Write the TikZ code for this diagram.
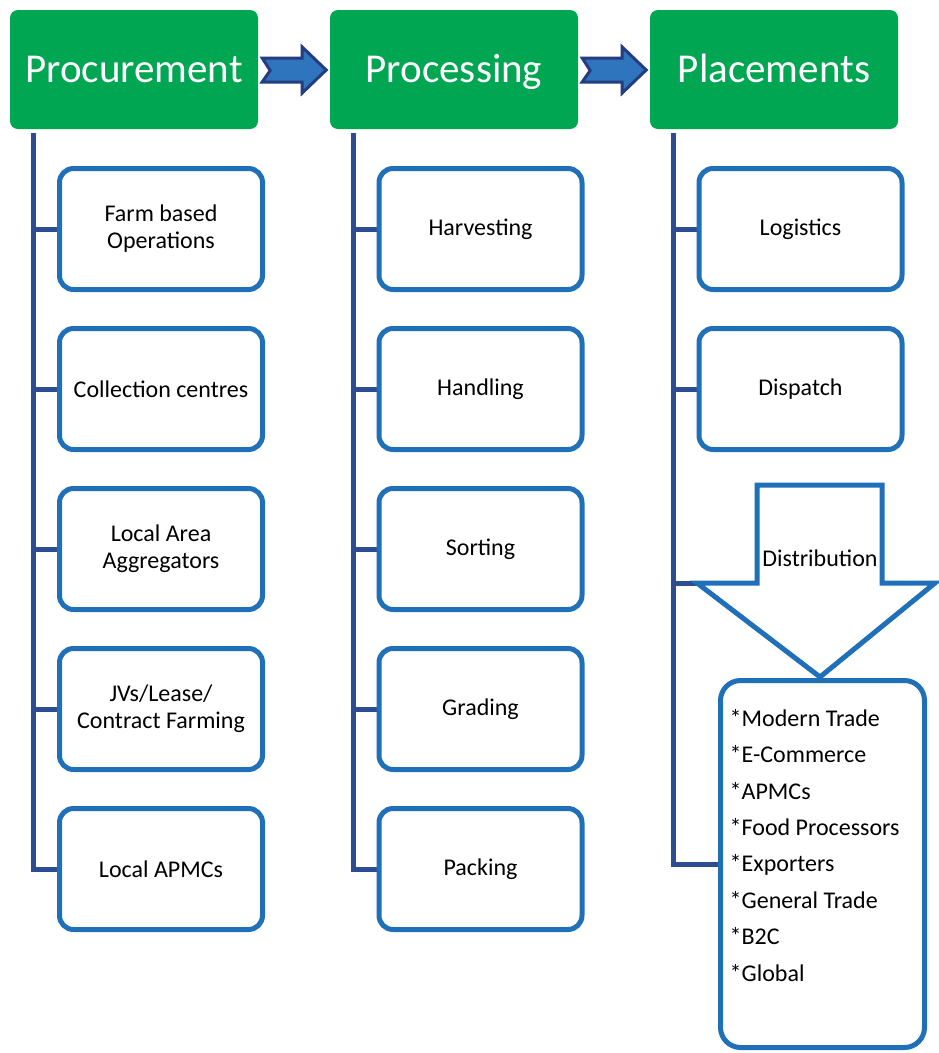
\documentclass[tikz,border=0pt]{standalone}
\usepackage{fontspec}
\setmainfont{Carlito}
\usetikzlibrary{calc,backgrounds}
\definecolor{hdgreen}{RGB}{0,166,81}
\definecolor{boxblue}{RGB}{31,112,185}
\definecolor{linkblue}{RGB}{44,77,145}
\definecolor{arrfill}{RGB}{46,117,190}
\definecolor{arrline}{RGB}{36,60,128}

\tikzset{
  header/.style={rectangle, rounded corners=8pt, fill=hdgreen, text=white,
    minimum width=248pt, minimum height=119pt, text height=28pt, text depth=3pt,
    font=\fontsize{41}{48}\selectfont},
  stepbox/.style={rectangle, rounded corners=14pt, draw=boxblue, line width=5pt, fill=white,
    minimum width=203pt, minimum height=121pt, align=center, font=\fontsize{24}{27}\selectfont},
  link/.style={draw=linkblue, line width=5pt},
  flowarrow/.style={fill=arrfill, draw=arrline, line width=3pt, line join=miter},
  distarrow/.style={draw=boxblue, line width=5pt, fill=white, line join=miter},
  listtxt/.style={align=left, inner sep=0pt, font=\fontsize{24}{36.4}\selectfont}
}

\begin{document}
\begin{tikzpicture}[x=1pt,y=-1pt]
\useasboundingbox (0,0) rectangle (938,1053);

% headers
\node[header] (proc) at (134,69.5) {Procurement};
\node[header] (prcs) at (454,69.5) {Processing};
\node[header] (plac) at (774,69.5) {Placements};

% arrows between headers
\draw[flowarrow] (proc.east) ++(4,-11.5) -- ++(40,0) -- ++(0,-11) -- ++(24,23)
  -- ++(-24,23) -- ++(0,-11) -- ++(-40,0) -- ++(8,-11.5) -- cycle;
\draw[flowarrow] (prcs.east) ++(4,-11.5) -- ++(40,0) -- ++(0,-11) -- ++(24,23)
  -- ++(-24,23) -- ++(0,-11) -- ++(-40,0) -- ++(8,-11.5) -- cycle;

% procurement column
\node[stepbox] (pa) at (161,229) {Farm based\\Operations};
\node[stepbox] (pb) at (161,389) {Collection centres};
\node[stepbox] (pc) at (161,549) {Local Area\\Aggregators};
\node[stepbox] (pd) at (161,709) {JVs/Lease/\\Contract Farming};
\node[stepbox] (pe) at (161,869) {Local APMCs};

% processing column
\node[stepbox] (qa) at (480.5,229) {Harvesting};
\node[stepbox] (qb) at (480.5,389) {Handling};
\node[stepbox] (qc) at (480.5,549) {Sorting};
\node[stepbox] (qd) at (480.5,709) {Grading};
\node[stepbox] (qe) at (480.5,869) {Packing};

% placements column
\node[stepbox] (ra) at (800.5,229) {Logistics};
\node[stepbox] (rb) at (800.5,389) {Dispatch};
\draw[distarrow] (757,485) -- (882,485) -- (882,583) -- (935,583) -- (820,677)
  -- (697,583) -- (757,583) -- cycle;
\node[font=\fontsize{24}{27}\selectfont] (dist) at (820,558) {Distribution};
\coordinate (distl) at (697,583);
\node[stepbox, rounded corners=20pt, minimum width=204pt, minimum height=367pt] (lst) at (822.5,864) {};
\node[listtxt, anchor=north west] (lsttxt) at ($(lst.north west)+(11.5,31)$)
  {*Modern Trade\\*E-Commerce\\*APMCs\\*Food Processors\\*Exporters\\*General Trade\\*B2C\\*Global};

% spines
\coordinate (procspine) at (33,133);
\coordinate (prcsspine) at (353,133);
\coordinate (placspine) at (673,133);
\begin{scope}[on background layer]
  \foreach \b in {pa,pb,pc,pd,pe} \draw[link] (procspine) |- (\b.west);
  \foreach \b in {qa,qb,qc,qd,qe} \draw[link] (prcsspine) |- (\b.west);
  \foreach \b in {ra,rb,distl,lst} \draw[link] (placspine) |- (\b.west);
\end{scope}
\end{tikzpicture}
\end{document}
